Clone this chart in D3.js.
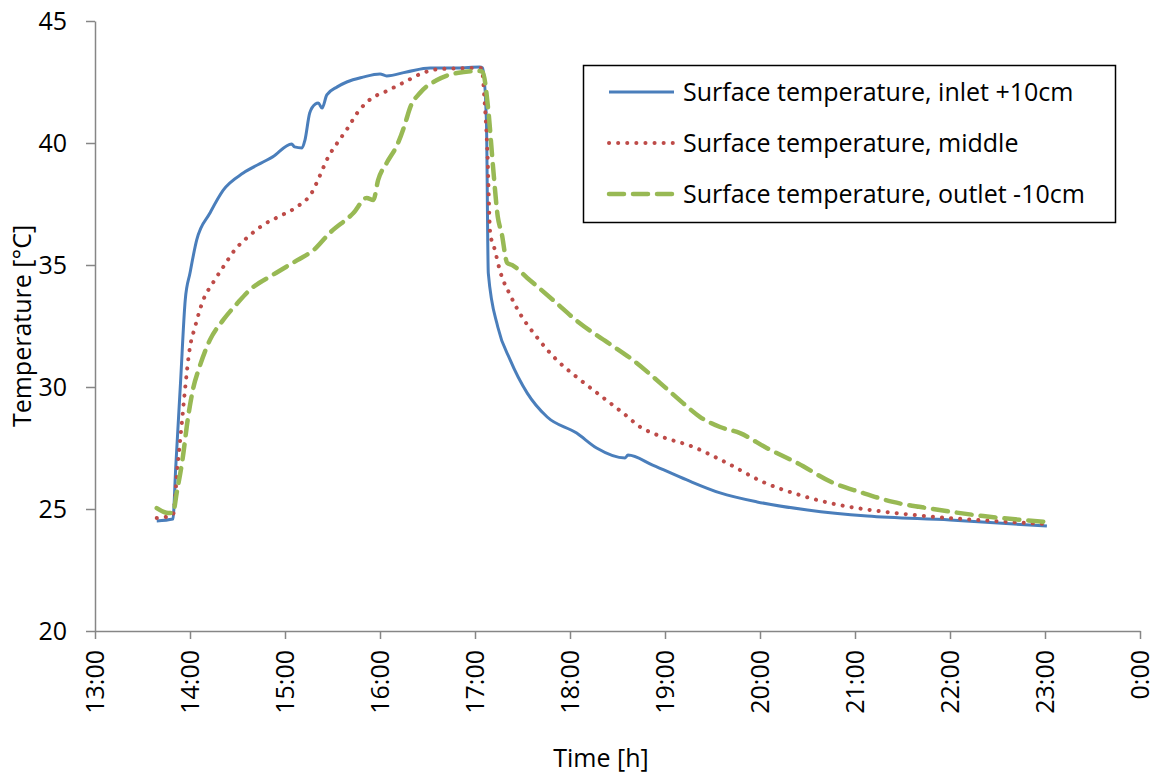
<!DOCTYPE html>
<html>
<head>
<meta charset="utf-8">
<script src="https://cdn.jsdelivr.net/npm/d3@7"></script>
<style>
  body { margin: 0; background: #fff; }
  text { font-family: "Open Sans", sans-serif; }
</style>
</head>
<body>
<script>
// time in hours, temperature in °C
const inletTemps = [
  [13.65, 24.51], [13.82, 24.59], [13.85, 26.72], [13.9, 30.16], [13.95, 33.57],
  [14.0, 34.67], [14.07, 36.02], [14.21, 37.13], [14.35, 38.07], [14.56, 38.77],
  [14.77, 39.22], [14.87, 39.43], [15.07, 39.96], [15.1, 39.84], [15.18, 39.8],
  [15.21, 40.12], [15.26, 41.23], [15.32, 41.6], [15.35, 41.64], [15.39, 41.43],
  [15.44, 41.97], [15.55, 42.3], [15.65, 42.5], [15.82, 42.7], [16.0, 42.83],
  [16.07, 42.75], [16.28, 42.91], [16.53, 43.07], [16.81, 43.07], [17.05, 43.11],
  [17.08, 43.07], [17.12, 40.94], [17.14, 34.67], [17.24, 32.46], [17.37, 31.11],
  [17.55, 29.75], [17.76, 28.77], [18.07, 28.11], [18.28, 27.5], [18.58, 27.09],
  [18.61, 27.21], [18.87, 26.8], [19.23, 26.19], [19.58, 25.66], [19.97, 25.29],
  [20.5, 24.96], [21.13, 24.71], [22.0, 24.55], [23.02, 24.3]
];
const middleTemps = [
  [13.65, 24.63], [13.82, 24.75], [13.87, 26.8], [13.92, 28.77], [13.94, 29.59],
  [14.0, 31.64], [14.05, 32.42], [14.14, 33.57], [14.24, 34.26], [14.35, 34.92],
  [14.47, 35.61], [14.61, 36.15], [14.77, 36.64], [14.97, 37.05], [15.14, 37.42],
  [15.28, 37.95], [15.37, 38.69], [15.45, 39.39], [15.55, 40.0], [15.66, 40.61],
  [15.76, 41.23], [15.9, 41.8], [16.07, 42.13], [16.26, 42.5], [16.45, 42.87],
  [16.63, 43.03], [16.95, 43.07], [17.07, 43.07], [17.1, 41.76], [17.13, 39.71],
  [17.16, 36.31], [17.21, 35.61], [17.26, 34.8], [17.37, 33.77], [17.47, 33.03],
  [17.65, 32.05], [17.86, 31.11], [18.07, 30.41], [18.34, 29.59], [18.56, 28.93],
  [18.74, 28.36], [18.92, 28.03], [19.3, 27.54], [19.65, 26.89], [20.03, 26.11],
  [20.42, 25.57], [20.84, 25.16], [21.02, 25.04], [21.63, 24.75], [22.45, 24.51],
  [22.98, 24.39]
];
const outletTemps = [
  [13.65, 25.04], [13.77, 24.84], [13.82, 24.84], [13.86, 25.66], [13.92, 27.0],
  [13.98, 28.77], [14.03, 29.88], [14.1, 30.82], [14.21, 31.93], [14.35, 32.75],
  [14.5, 33.44], [14.63, 33.98], [14.87, 34.59], [15.13, 35.2], [15.3, 35.61],
  [15.47, 36.31], [15.72, 37.13], [15.86, 37.75], [15.93, 37.66], [15.98, 38.48],
  [16.07, 39.18], [16.19, 40.0], [16.26, 40.74], [16.32, 41.48], [16.42, 42.05],
  [16.6, 42.58], [16.81, 42.87], [17.05, 42.95], [17.08, 42.91], [17.14, 41.35],
  [17.19, 39.02], [17.24, 36.97], [17.28, 36.31], [17.34, 35.08], [17.39, 35.0],
  [17.55, 34.47], [17.82, 33.57], [18.1, 32.62], [18.39, 31.84], [18.66, 31.11],
  [18.95, 30.16], [19.19, 29.34], [19.37, 28.77], [19.58, 28.36], [19.79, 28.11],
  [20.07, 27.5], [20.39, 26.89], [20.77, 26.07], [21.05, 25.7], [21.4, 25.29],
  [21.82, 25.0], [22.35, 24.71], [23.02, 24.47]
];
const seriesNames = [
  "Surface temperature, inlet +10cm",
  "Surface temperature, middle",
  "Surface temperature, outlet -10cm"
];
const xTicks = [13, 14, 15, 16, 17, 18, 19, 20, 21, 22, 23, 24];
const yTicks = [20, 25, 30, 35, 40, 45];

const width = 1161, height = 776;
const margin = { top: 21, right: 21, bottom: 145, left: 95 };
const fontSize = 25;

const svg = d3.select("body").append("svg")
  .attr("width", width).attr("height", height);

const x = d3.scaleLinear().domain([13, 24]).range([margin.left, width - margin.right]);
const y = d3.scaleLinear().domain([20, 45]).range([height - margin.bottom, margin.top]);

const styles = [
  { color: "#4A7EBB", width: 3, dash: null, cap: "butt" },
  { color: "#BE4B48", width: 4, dash: "0.1 9", cap: "round" },
  { color: "#98B954", width: 4.5, dash: "15 9", cap: "round" }
];

// axes
const xAxis = svg.append("g")
  .attr("transform", `translate(0,${y(20)})`)
  .call(d3.axisBottom(x).tickValues(xTicks).tickSize(8).tickSizeOuter(0)
    .tickFormat(d => (d % 24) + ":00"));
xAxis.selectAll("text")
  .attr("transform", "rotate(-90)")
  .attr("text-anchor", "end")
  .attr("dy", "0.35em")
  .attr("x", -19).attr("y", 0)
  .attr("font-size", fontSize).attr("fill", "#000");

const yAxis = svg.append("g")
  .attr("transform", `translate(${x(13)},0)`)
  .call(d3.axisLeft(y).tickValues(yTicks).tickSize(9).tickSizeOuter(0));
yAxis.selectAll("text").attr("x", -28).attr("font-size", fontSize).attr("fill", "#000");

svg.selectAll(".domain, .tick line").attr("stroke", "#868686").attr("stroke-width", 1.5);

// lines
const line = d3.line().x(d => x(d[0])).y(d => y(d[1])).curve(d3.curveMonotoneX);
[inletTemps, middleTemps, outletTemps].forEach((data, i) => {
  const s = styles[i];
  svg.append("path")
    .datum(data)
    .attr("fill", "none")
    .attr("stroke", s.color)
    .attr("stroke-width", s.width)
    .attr("stroke-linecap", s.cap)
    .attr("stroke-linejoin", "round")
    .attr("stroke-dasharray", s.dash)
    .attr("d", line);
});

// axis titles
svg.append("text")
  .attr("x", 601).attr("y", 767)
  .attr("text-anchor", "middle").attr("font-size", fontSize)
  .text("Time [h]");
svg.append("text")
  .attr("transform", `translate(31,${(y(20) + y(45)) / 2}) rotate(-90)`)
  .attr("text-anchor", "middle").attr("font-size", fontSize)
  .text("Temperature [°C]");

// legend
const legend = svg.append("g");
legend.append("rect")
  .attr("x", 583.5).attr("y", 65.5).attr("width", 532).attr("height", 157)
  .attr("fill", "#fff").attr("stroke", "#000").attr("stroke-width", 1.5);
seriesNames.forEach((name, i) => {
  const s = styles[i];
  const ly = 92 + i * 51;
  legend.append("line")
    .attr("x1", 609).attr("x2", 674).attr("y1", ly).attr("y2", ly)
    .attr("stroke", s.color).attr("stroke-width", s.width)
    .attr("stroke-linecap", s.cap).attr("stroke-dasharray", s.dash);
  legend.append("text")
    .attr("x", 683).attr("y", ly).attr("dy", "0.35em")
    .attr("font-size", fontSize).text(name);
});
</script>
</body>
</html>
